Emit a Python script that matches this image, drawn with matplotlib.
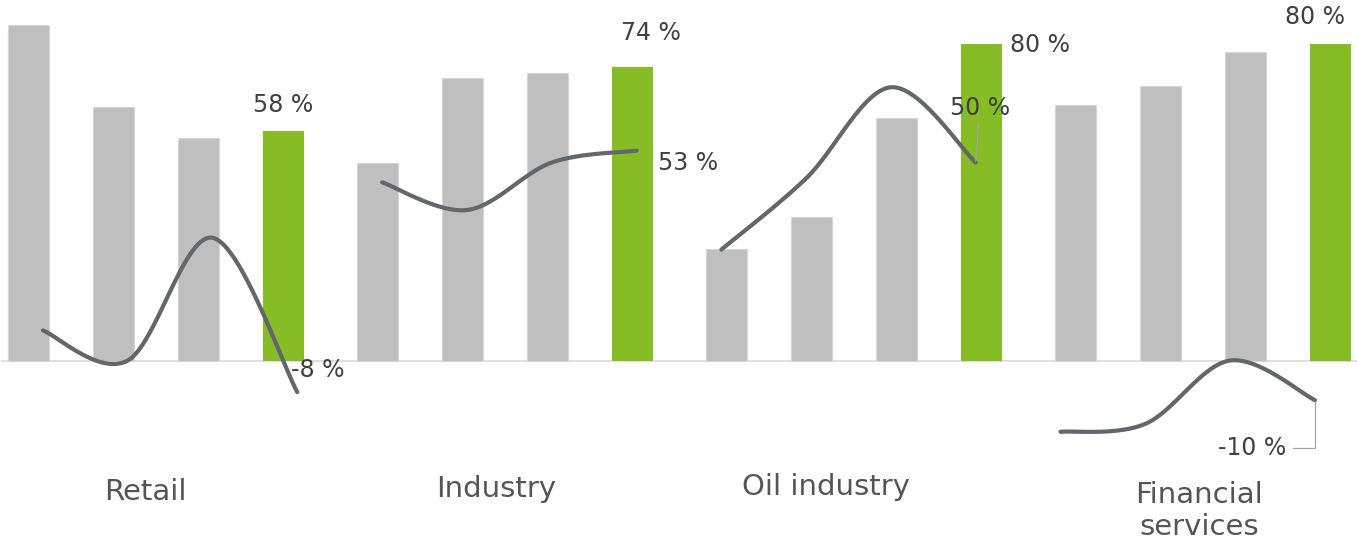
import matplotlib
matplotlib.use("Agg")
import matplotlib.pyplot as plt
import numpy as np

plt.rcParams["font.family"] = ["DejaVu Sans"]

# --- data -----------------------------------------------------------------
CATEGORIES = ["Retail", "Industry", "Oil industry", "Financial\nservices"]

# three grey comparison bars per sector, then the highlighted (green) bar
GREY_VALUES = [
    [84.7, 64.1, 56.1],
    [50.0, 71.3, 72.6],
    [28.2, 36.3, 61.3],
    [64.5, 69.3, 77.8],
]
GREEN_VALUES = [58, 74, 80, 80]

# growth line, four points per sector
LINE_VALUES = [
    [7.6, 0, 31, -8],
    [45, 38, 50, 53],
    [28, 46, 69, 50],
    [-18, -16, 0, -10],
]

# --- styling / layout -----------------------------------------------------
GREY = "#bfbfbf"
GREEN = "#86bc25"
LINE_COLOR = "#63666a"
TEXT_COLOR = "#404040"
CAT_COLOR = "#555555"

GROUP_STEP = 4.106      # distance between the first bars of two sectors
BAR_WIDTH = 0.48
LINE_X0 = 0.17          # line sits on its own evenly spaced category axis
LINE_STEP = 0.9976

# label offsets in points relative to the mark they describe
GREEN_LABEL_OFFSETS = [(0, 18.7), (13, 25), (42, -0.7), (-11.5, 19.4)]
LINE_LABEL_OFFSETS = [(14.4, 16.3), (37.4, -8.9), (2.9, 39.2), (-45.4, -34.6)]
CAT_SHIFT = [-0.12, -0.1, -0.33, -0.05]
CAT_Y = [-33.2, -32.4, -32.0, -38.0]


def smooth_curve(xs, ys, n=40):
    """Bezier smoothing through the points (Catmull-Rom style control points)."""
    pts = np.column_stack([xs, ys]).astype(float)
    out = []
    for i in range(len(pts) - 1):
        p0 = pts[i - 1] if i > 0 else pts[i]
        p1 = pts[i]
        p2 = pts[i + 1]
        p3 = pts[i + 2] if i + 2 < len(pts) else pts[i + 1]
        c1 = p1 + (p2 - p0) / 6
        c2 = p2 - (p3 - p1) / 6
        t = np.linspace(0, 1, n)[:, None]
        seg = ((1 - t) ** 3) * p1 + 3 * ((1 - t) ** 2) * t * c1 \
            + 3 * (1 - t) * t ** 2 * c2 + t ** 3 * p2
        out.append(seg if i == 0 else seg[1:])
    out = np.vstack(out)
    return out[:, 0], out[:, 1]


fig = plt.figure(figsize=(13.57, 5.42), dpi=100)
ax = fig.add_axes([0, 0, 1, 1])
ax.set_xlim(-0.3353, 15.6294)
ax.set_ylim(-45.83, 91.04)
ax.axis("off")

ax.axhline(0, xmin=0.0015, xmax=1, color="#d9d9d9", lw=1.2, zorder=1)

for g in range(len(CATEGORIES)):
    base = g * GROUP_STEP
    xs = base + np.arange(3)
    ax.bar(xs, GREY_VALUES[g], width=BAR_WIDTH, color=GREY,
           edgecolor="#d6d6d6", linewidth=0.8, zorder=2)
    gx = base + 3
    ax.bar(gx, GREEN_VALUES[g], width=BAR_WIDTH, color=GREEN, zorder=2)
    ax.annotate(f"{GREEN_VALUES[g]} %", (gx, GREEN_VALUES[g]),
                xytext=GREEN_LABEL_OFFSETS[g], textcoords="offset points",
                ha="center", va="center", fontsize=17, color=TEXT_COLOR,
                zorder=5)

    ax.text(base + 1.5 + CAT_SHIFT[g], CAT_Y[g], CATEGORIES[g],
            ha="center", va="center", fontsize=21, color=CAT_COLOR,
            linespacing=1.2)

    # growth line for this sector
    lx = LINE_X0 + LINE_STEP * (g * 4 + np.arange(4))
    cx, cy = smooth_curve(lx, LINE_VALUES[g])
    ax.plot(cx, cy, color=LINE_COLOR, lw=3, solid_capstyle="round", zorder=4)

    last = LINE_VALUES[g][-1]
    arrow = None
    if g == 2:
        arrow = dict(arrowstyle="-", color="#a6a6a6", lw=0.9,
                     shrinkA=0, shrinkB=1)
    elif g == 3:
        arrow = dict(arrowstyle="-", color="#a6a6a6", lw=0.9,
                     connectionstyle="angle,angleA=0,angleB=90,rad=0",
                     shrinkA=3, shrinkB=1)
    ax.annotate(f"{last:.0f} %", (lx[-1], last),
                xytext=LINE_LABEL_OFFSETS[g], textcoords="offset points",
                ha="center", va="center", fontsize=17, color=TEXT_COLOR,
                arrowprops=arrow, zorder=5)

fig.savefig("out.png", dpi=100, facecolor="white")
